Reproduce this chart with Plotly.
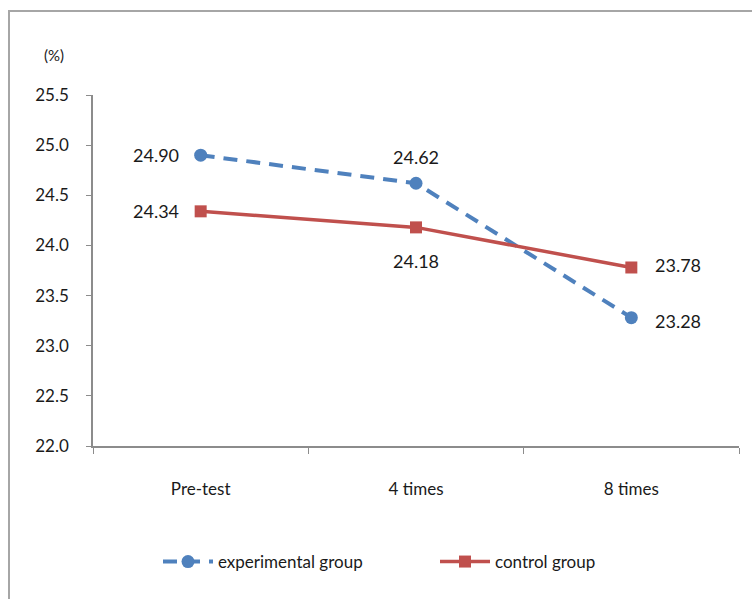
import plotly.graph_objects as go

categories = ["Pre-test", "4 times", "8 times"]
experimental = [24.90, 24.62, 23.28]
control = [24.34, 24.18, 23.78]
y_ticks = [22.0, 22.5, 23.0, 23.5, 24.0, 24.5, 25.0, 25.5]

BLUE = "#4F81BD"
RED = "#C0504D"
TEXT = "#1A1A1A"
AXIS = "#8C8C8C"
FONT = "Lato, 'Open Sans', sans-serif"

W, H = 752, 599
L, R, T, B = 93, 13, 95, 153
pw, ph = W - L - R, H - T - B

fig = go.Figure()
fig.add_trace(go.Scatter(
    x=categories, y=experimental, name="experimental group",
    mode="lines+markers",
    line=dict(color=BLUE, width=4, dash="14px,9px"),
    marker=dict(symbol="circle", size=13, color=BLUE),
))
fig.add_trace(go.Scatter(
    x=categories, y=control, name="control group",
    mode="lines+markers",
    line=dict(color=RED, width=3.5),
    marker=dict(symbol="square", size=12, color=RED),
))

# value labels placed relative to each point
exp_offsets = [(-45, 0), (0, 26), (47, -3)]
ctl_offsets = [(-45, 0), (0, -34), (47, 2)]
for vals, offs in ((experimental, exp_offsets), (control, ctl_offsets)):
    for cat, v, (dx, dy) in zip(categories, vals, offs):
        fig.add_annotation(x=cat, y=v, text=f"{v:.2f}", showarrow=False,
                           xshift=dx, yshift=dy,
                           font=dict(size=18, color=TEXT, family=FONT))

fig.add_annotation(x=(54 - L) / pw, y=(H - B - 55) / ph, xref="paper", yref="paper",
                   xanchor="center", yanchor="middle",
                   text="(%)", showarrow=False,
                   font=dict(size=15, color=TEXT, family=FONT))

# outer chart frame (left and top edges visible)
fig.add_shape(type="rect", xref="paper", yref="paper",
              x0=(9 - L) / pw, x1=1.2, y0=-0.6, y1=(H - B - 11) / ph,
              line=dict(color="#A6A6A6", width=2), layer="below")

fig.update_layout(
    width=W, height=H,
    margin=dict(l=L, r=R, t=T, b=B, autoexpand=False),
    paper_bgcolor="white", plot_bgcolor="white",
    font=dict(family=FONT, size=17, color=TEXT),
    showlegend=True,
    legend=dict(orientation="h", x=(158 - L) / pw, xanchor="left",
                y=(H - B - 562) / ph, yanchor="middle",
                font=dict(size=17, color=TEXT, family=FONT),
                itemwidth=50, entrywidth=212, entrywidthmode="pixels",
                traceorder="normal"),
    xaxis=dict(type="category", range=[-0.5, 2.5], showgrid=False,
               showline=True, linecolor=AXIS, linewidth=1.5,
               ticks="outside", tickson="boundaries", ticklen=6,
               tickcolor=AXIS, ticklabelstandoff=27,
               tickfont=dict(size=17, color=TEXT, family=FONT)),
    yaxis=dict(range=[22.0, 25.5], tickvals=y_ticks,
               ticktext=[f"{v:.1f}" for v in y_ticks], showgrid=False,
               zeroline=False, showline=True, linecolor=AXIS, linewidth=1.5,
               ticks="outside", ticklen=5, tickcolor=AXIS,
               ticklabelstandoff=14,
               tickfont=dict(size=17, color=TEXT, family=FONT)),
)

fig.write_html("out.html")
